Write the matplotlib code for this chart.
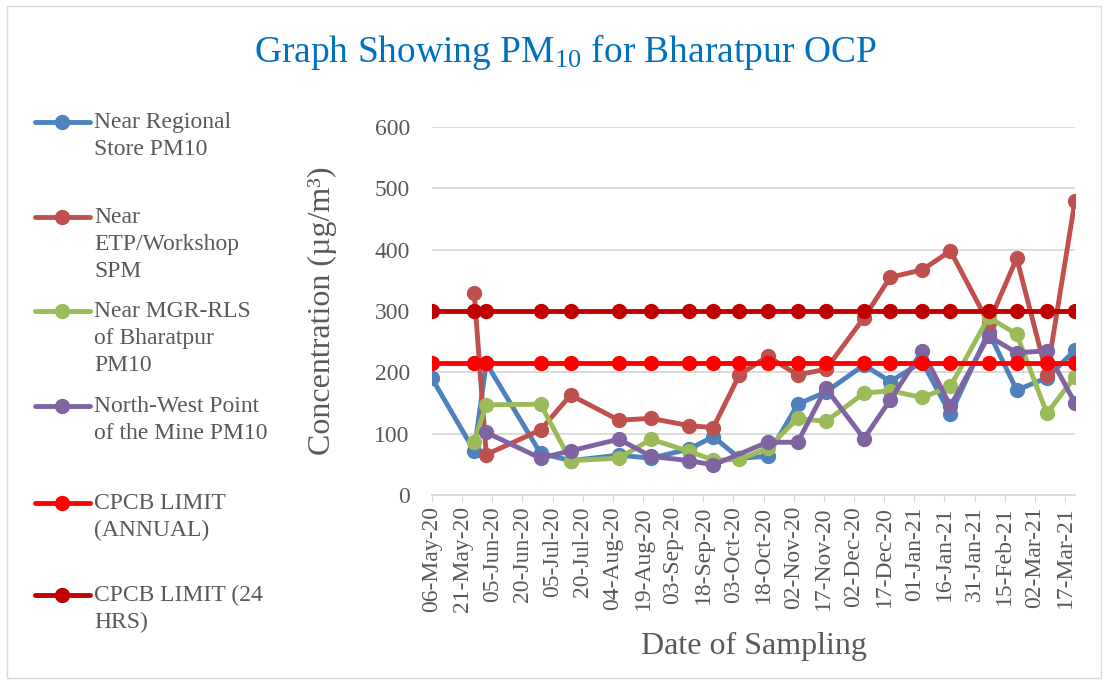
import numpy as np
import pandas as pd
import matplotlib
matplotlib.use("Agg")
import matplotlib.pyplot as plt
import matplotlib.dates as mdates
from matplotlib.lines import Line2D
from matplotlib.patches import Rectangle

plt.rcParams['font.family'] = ['Liberation Serif', 'DejaVu Serif']
plt.rcParams['mathtext.fontset'] = 'custom'
plt.rcParams['mathtext.rm'] = 'Liberation Serif'
plt.rcParams['mathtext.it'] = 'Liberation Serif'

# sampling dates
dates = pd.to_datetime([
    "2020-05-06", "2020-05-27", "2020-06-02", "2020-06-29", "2020-07-14",
    "2020-08-07", "2020-08-23", "2020-09-11", "2020-09-23", "2020-10-06",
    "2020-10-20", "2020-11-04", "2020-11-18", "2020-12-07", "2020-12-20",
    "2021-01-05", "2021-01-19", "2021-02-07", "2021-02-21", "2021-03-08",
    "2021-03-22"])

# PM10 values (None = not sampled)
regional_store = [190, 72, 215, 68, 56, 65, 60, 75, 95, 60,
                  63, 148, 168, 212, 185, 217, 132, 266, 171, 191, 236]
etp_workshop = [None, 330, 66, 106, 163, 122, 125, 113, 110, 196,
                226, 196, 205, 289, 355, 367, 398, 280, 386, 196, 480]
mgr_rls = [None, 87, 147, 148, 56, 60, 91, 71, 57, 58,
           76, 125, 120, 166, 170, 159, 177, 290, 262, 133, 193]
north_west = [None, None, 102, 60, 72, 91, 63, 56, 49, None,
              86, 86, 174, 92, 155, 235, 145, 259, 232, 235, 150]
limit_annual = [215] * 21
limit_24hrs = [300] * 21

series = [
    ("Near Regional\nStore PM10", regional_store, "#4F81BD"),
    ("Near\nETP/Workshop\nSPM", etp_workshop, "#C0504D"),
    ("Near MGR-RLS\nof Bharatpur\nPM10", mgr_rls, "#9BBB59"),
    ("North-West Point\nof the Mine PM10", north_west, "#8064A2"),
    ("CPCB LIMIT\n(ANNUAL)", limit_annual, "#FF0000"),
    ("CPCB LIMIT (24\nHRS)", limit_24hrs, "#C00000"),
]

W, H = 1108, 684
fig = plt.figure(figsize=(W / 100, H / 100), dpi=100)
ax = fig.add_axes([432 / W, 1 - 495 / H, (1075 - 432) / W, (495 - 127) / H])

for label, vals, col in series:
    s = pd.Series(vals, index=dates, dtype=float).dropna()
    ax.plot(s.index, s.values, color=col, lw=3.5, marker='o', ms=10,
            solid_capstyle='round', solid_joinstyle='round')

ax.set_ylim(0, 600)
ax.set_yticks(np.arange(0, 601, 100))
ax.set_xlim(dates[0], dates[-1])
ticks = pd.date_range(dates[0], dates[-1], freq='15D')
ax.set_xticks(ticks)
ax.xaxis.set_major_formatter(mdates.DateFormatter('%d-%b-%y'))
ax.grid(axis='y', color='#D9D9D9', lw=1.3)
ax.set_axisbelow(True)
for sp in ['top', 'right', 'left']:
    ax.spines[sp].set_visible(False)
ax.spines['bottom'].set_color('#D9D9D9')
ax.spines['bottom'].set_linewidth(1.3)
ax.tick_params(axis='x', direction='out', length=5, color='#D9D9D9',
               labelsize=17, labelcolor='#595959', rotation=90, pad=3)
ax.tick_params(axis='y', length=0, labelsize=17, labelcolor='#595959', pad=16)

ax.set_ylabel("Concentration (µg/m³)", fontsize=23, color='#595959', labelpad=27)
ax.set_xlabel("Date of Sampling", fontsize=23, color='#595959', labelpad=14)

fig.text(565 / W, 1 - 52 / H, "Graph Showing PM$_{10}$ for Bharatpur OCP",
         ha='center', va='center', fontsize=27, color='#0070C0')

# legend on the left
legend_y = [122, 217, 311, 406, 503, 595]
for (label, vals, col), y in zip(series, legend_y):
    fy = 1 - y / H
    fig.add_artist(Line2D([35 / W, 90 / W], [fy, fy], color=col, lw=3.5,
                          solid_capstyle='round'))
    fig.add_artist(Line2D([62 / W], [fy], color=col, marker='o', ms=10))
    fig.text(94 / W, fy + 10 / H, label, ha='left', va='top', fontsize=17,
             color='#595959', linespacing=1.38)

fig.add_artist(Rectangle((7 / W, 6 / H), 1 - 14 / W, 1 - 12 / H,
                         transform=fig.transFigure, fill=False,
                         edgecolor='#D9D9D9', lw=1))

fig.savefig("out.png", dpi=100)
